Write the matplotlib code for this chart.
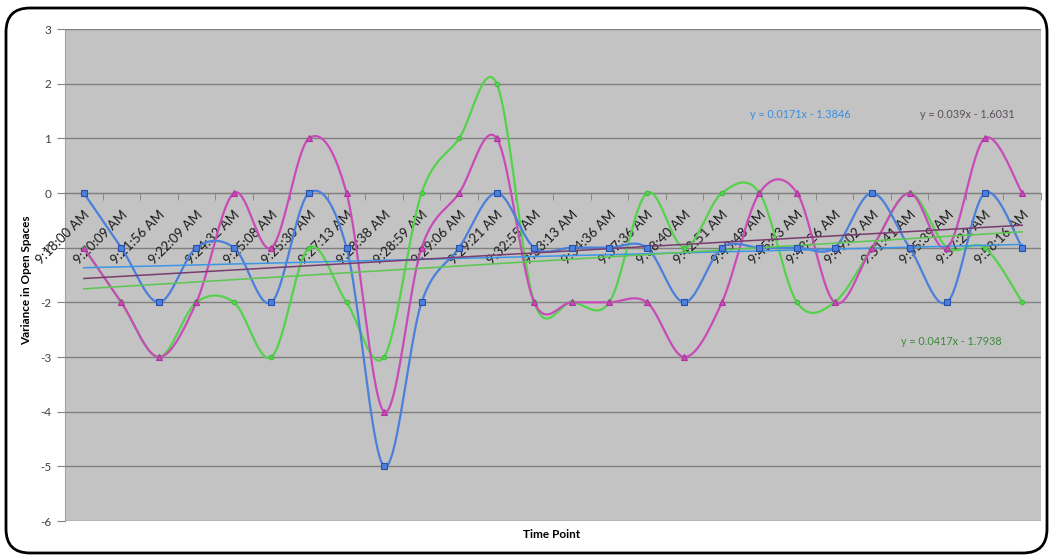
import numpy as np
import matplotlib.pyplot as plt
from matplotlib.patches import FancyBboxPatch
from matplotlib.transforms import IdentityTransform

plt.rcParams['font.family'] = ['Lato', 'DejaVu Sans']
plt.rcParams['axes.unicode_minus'] = False

time_points = ["9:18:00 AM", "9:20:09 AM", "9:21:56 AM", "9:22:09 AM", "9:24:32 AM",
               "9:25:08 AM", "9:25:30 AM", "9:27:13 AM", "9:28:38 AM", "9:28:59 AM",
               "9:29:06 AM", "9:29:21 AM", "9:32:55 AM", "9:33:13 AM", "9:34:36 AM",
               "9:37:36 AM", "9:38:40 AM", "9:42:51 AM", "9:43:48 AM", "9:45:43 AM",
               "9:48:26 AM", "9:49:02 AM", "9:51:41 AM", "9:55:39 AM", "9:57:22 AM",
               "9:58:16 AM"]

blue_vals = [0, -1, -2, -1, -1, -2, 0, -1, -5, -2, -1, 0, -1, -1, -1, -1, -2, -1, -1, -1,
             -1, 0, -1, -2, 0, -1]
magenta_vals = [-1, -2, -3, -2, 0, -1, 1, 0, -4, -1, 0, 1, -2, -2, -2, -2, -3, -2, 0, 0,
                -2, -1, 0, -1, 1, 0]
green_vals = [-1, -2, -3, -2, -2, -3, -1, -2, -3, 0, 1, 2, -2, -2, -2, 0, -1, 0, 0, -2,
              -2, -1, 0, -1, -1, -2]

# linear trendlines (slope, intercept) as shown on the chart
blue_trend = (0.0171, -1.3846)
magenta_trend = (0.039, -1.6031)
green_trend = (0.0417, -1.7938)

y_ticks = list(range(-6, 4))


def smooth(xs, ys, n=24):
    # Catmull-Rom style bezier through every point (like Excel's smoothed line)
    pts = np.column_stack([xs, ys]).astype(float)
    padded = np.vstack([pts[0], pts, pts[-1]])
    t = np.linspace(0, 1, n)[:, None]
    parts = []
    for k in range(len(pts) - 1):
        p0, p1, p2, p3 = padded[k], padded[k + 1], padded[k + 2], padded[k + 3]
        c1 = p1 + (p2 - p0) / 6
        c2 = p2 - (p3 - p1) / 6
        seg = (1 - t) ** 3 * p1 + 3 * (1 - t) ** 2 * t * c1 + 3 * (1 - t) * t ** 2 * c2 + t ** 3 * p2
        parts.append(seg if k == 0 else seg[1:])
    curve = np.vstack(parts)
    return curve[:, 0], curve[:, 1]


fig = plt.figure(figsize=(10.5, 5.56), dpi=100)
ax = fig.add_axes([65 / 1050, 1 - 521 / 556, 976 / 1050, 492 / 556])
ax.set_facecolor('#c3c3c3')
ax.set_axisbelow(False)

# category axis crosses at zero
ax.spines['bottom'].set_position(('data', 0))
ax.spines['bottom'].set_color('#808080')
ax.spines['left'].set_color('#a0a0a0')
ax.spines['top'].set_visible(False)
ax.spines['right'].set_visible(False)

x = np.arange(len(time_points))

for yv in y_ticks:
    ax.axhline(yv, color='#808080', lw=1, zorder=1)

series = [
    (green_vals, '#55d24b', 'o', 3.2, '#3fbf3f'),
    (magenta_vals, '#c84bb9', '^', 5, '#b0309f'),
    (blue_vals, '#4a80dc', 's', 4.5, '#2a4fa8'),
]
for vals, col, mk, ms, edge in series:
    sx, sy = smooth(x, vals)
    ax.plot(sx, sy, color=col, lw=1.6, zorder=3)
    ax.plot(x, vals, ls='none', marker=mk, ms=ms, mfc=col, mec=edge, mew=0.8, zorder=4)

trends = [
    (blue_trend, '#3c96e6'),
    (magenta_trend, '#7a3c70'),
    (green_trend, '#5ac850'),
]
for (slope, icpt), col in trends:
    ax.plot(x, slope * (x + 1) + icpt, color=col, lw=1.1, zorder=3.5)

ax.text(19.1, 1.43, "y = %gx - %g" % (blue_trend[0], -blue_trend[1]), color='#3a8ee0',
        fontsize=7.8, ha='center', va='center')
ax.text(23.55, 1.43, "y = %gx - %g" % (magenta_trend[0], -magenta_trend[1]), color='#5a4f5a',
        fontsize=7.8, ha='center', va='center')
ax.text(23.1, -2.72, "y = %gx - %g" % (green_trend[0], -green_trend[1]), color='#3d8a3d',
        fontsize=7.8, ha='center', va='center')

ax.set_xlim(-0.5, len(time_points) - 0.5)
ax.set_ylim(-6, 3)
ax.set_yticks(y_ticks)
ax.tick_params(axis='y', length=6, color='#808080', labelsize=8.5, labelcolor='#404040', pad=4)

ax.set_xticks(x)
ax.set_xticks(np.arange(-0.5, len(time_points)), minor=True)
ax.tick_params(axis='x', which='major', length=0, pad=11)
ax.tick_params(axis='x', which='minor', length=5, color='#808080')
ax.set_xticklabels(time_points, fontsize=9.5, color='#1a1a1a')
plt.setp(ax.get_xticklabels(), rotation=45, ha='right', rotation_mode='anchor')

fig.text(552 / 1050, 1 - 534 / 556, "Time Point", fontsize=8.5, fontweight='bold',
         ha='center', va='center')
fig.text(27 / 1050, 1 - 280 / 556, "Variance in Open Spaces", fontsize=8.5,
         fontweight='bold', rotation=90, ha='center', va='center')

fig.add_artist(FancyBboxPatch((6, 3), 1041, 545, boxstyle='round,pad=0,rounding_size=24',
                              transform=IdentityTransform(), fill=False, ec='black', lw=2))

fig.savefig('out.png', dpi=100)
